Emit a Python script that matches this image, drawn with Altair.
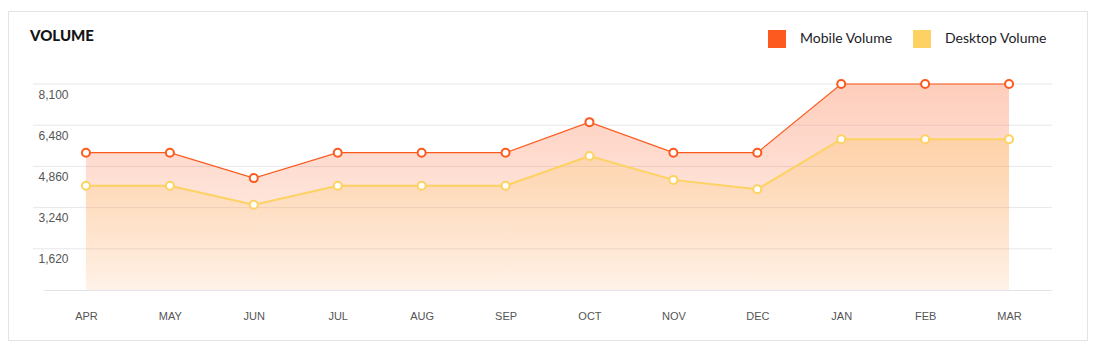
import altair as alt
import pandas as pd

months = ["APR", "MAY", "JUN", "JUL", "AUG", "SEP", "OCT", "NOV", "DEC", "JAN", "FEB", "MAR"]
mobile = [5400, 5400, 4400, 5400, 5400, 5400, 6600, 5400, 5400, 8100, 8100, 8100]
desktop = [4100, 4100, 3350, 4100, 4100, 4100, 5270, 4330, 3960, 5930, 5930, 5930]
series_names = ["Mobile Volume", "Desktop Volume"]
colors = ["#FC5A1F", "#FDD262"]
y_ticks = [1620, 3240, 4860, 6480, 8100]

rows = []
for m, v in zip(months, mobile):
    rows.append({"month": m, "series": series_names[0], "value": v})
for m, v in zip(months, desktop):
    rows.append({"month": m, "series": series_names[1], "value": v})
df = pd.DataFrame(rows)
grid_df = pd.DataFrame({"value": y_ticks})
dummy = pd.DataFrame({"a": [0]})

W, H = 1007, 206

x_enc = alt.X(
    "month:N", sort=months,
    scale=alt.Scale(type="point", padding=0.5),
    axis=alt.Axis(title=None, labelAngle=0, ticks=False, grid=False,
                  domainColor="#e2e2e8", domainWidth=1, zindex=1,
                  labelFont="Liberation Sans", labelFontSize=11, labelColor="#555555",
                  labelPadding=20),
)
y_enc = alt.Y(
    "value:Q",
    scale=alt.Scale(domain=[0, 8100], nice=False, zero=True),
    axis=alt.Axis(title=None, values=y_ticks, format=",.0f", grid=False, domain=False,
                  ticks=False, tickSize=0, labelAlign="left", labelPadding=6,
                  labelOffset=10, labelBaseline="middle", zindex=1,
                  labelFont="Liberation Sans", labelFontSize=12, labelColor="#555555",
                  labelOverlap=False, labelFlush=False),
)

card = alt.Chart(dummy).mark_rect(fill="transparent", stroke="#e3e3e8", strokeWidth=1).encode(
    x=alt.value(-35.5), x2=alt.value(1043.5), y=alt.value(-72.5), y2=alt.value(256.5)
)

title = alt.Chart(dummy).mark_text(
    text="VOLUME", align="left", baseline="middle", font="Lato", fontSize=15,
    fontWeight=900, color="#151515"
).encode(x=alt.value(-14), y=alt.value(-48))

grid = alt.Chart(grid_df).mark_rule(color="#e7e7ec", strokeWidth=1).encode(
    y=y_enc, x=alt.value(-11), x2=alt.value(W + 1)
)

def grad(rgb, top, bottom):
    return alt.Gradient(
        gradient="linear",
        stops=[
            alt.GradientStop(color=f"rgba({rgb},{top})", offset=0),
            alt.GradientStop(color=f"rgba({rgb},{bottom})", offset=1),
        ],
        x1=1, x2=1, y1=0, y2=1,
    )

base = alt.Chart(df)

area_m = base.transform_filter(alt.datum.series == series_names[0]).mark_area(
    color=grad("252,90,31", 0.30, 0.06)
).encode(x=x_enc, y=y_enc)

area_d = base.transform_filter(alt.datum.series == series_names[1]).mark_area(
    color=grad("253,200,110", 0.35, 0.08)
).encode(x=x_enc, y=y_enc)

stroke_scale = alt.Scale(domain=series_names, range=colors)

legend_layer = base.mark_square(opacity=0).encode(
    x=x_enc, y=y_enc,
    fill=alt.Fill("series:N", scale=stroke_scale, sort=series_names,
                  legend=alt.Legend(title=None, orient="none", legendX=724, legendY=-54,
                                    direction="horizontal", symbolType="square",
                                    symbolSize=324, symbolStrokeWidth=0, symbolOpacity=1,
                                    labelFont="Lato", labelFontSize=14, labelColor="#1c1c28",
                                    labelOffset=14, columnPadding=20)),
)

line_m = base.transform_filter(alt.datum.series == series_names[0]).mark_line(strokeWidth=1.2).encode(
    x=x_enc, y=y_enc, stroke=alt.Stroke("series:N", scale=stroke_scale, legend=None)
)
line_d = base.transform_filter(alt.datum.series == series_names[1]).mark_line(strokeWidth=2).encode(
    x=x_enc, y=y_enc, stroke=alt.Stroke("series:N", scale=stroke_scale, legend=None)
)

points = base.mark_point(shape="circle", filled=True, fill="white", fillOpacity=1, opacity=1,
                         size=64, strokeWidth=2).encode(
    x=x_enc, y=y_enc, stroke=alt.Stroke("series:N", scale=stroke_scale, legend=None)
)

chart = alt.layer(card, title, grid, area_m, area_d, legend_layer, line_m, line_d, points).properties(
    width=W, height=H,
    padding={"left": 36, "top": 76, "right": 37, "bottom": 53},
    autosize=alt.AutoSizeParams(type="none"),
    background="white",
).configure_view(stroke=None)

chart.save("out.html", embed_options={"renderer": "svg", "actions": False})
